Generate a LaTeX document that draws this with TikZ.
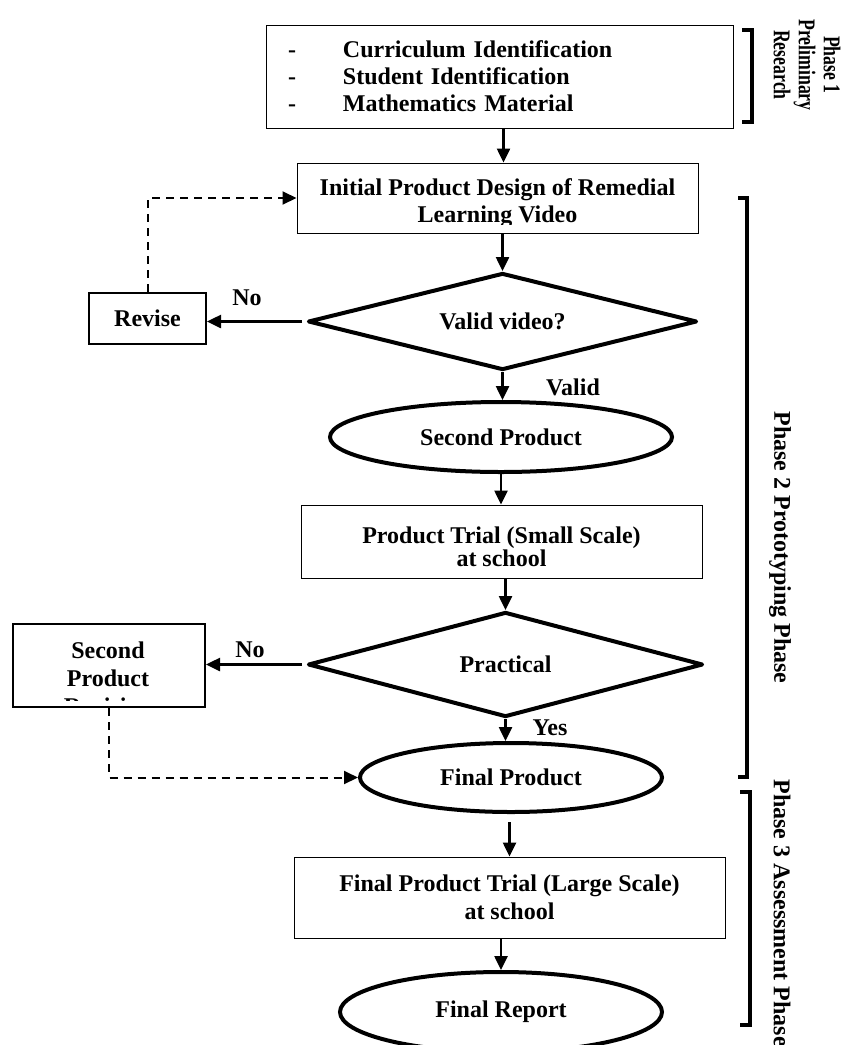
\documentclass[tikz,border=0pt]{standalone}
\usepackage{graphicx}
\usepackage{fontspec}
\setmainfont{Liberation Serif}
\usetikzlibrary{shapes.geometric,arrows.meta}
\newcommand{\cnd}[1]{\scalebox{0.74}[1]{#1}}
\begin{document}
\begin{tikzpicture}[x=0.5pt,y=-0.5pt,
  every node/.style={font=\bfseries\fontsize{12}{13.5}\selectfont},
  thinbox/.style={draw, line width=0.5pt, rectangle, inner sep=0pt, align=center},
  medbox/.style={draw, line width=1pt, rectangle, inner sep=0pt, align=center},
  dia/.style={draw, diamond, shape aspect=4, line width=2pt, inner sep=0pt, line join=round},
  ell/.style={draw, ellipse, line width=2pt, inner sep=0pt},
  arr/.style={line width=1.25pt, -{Triangle[length=7pt,width=6.5pt]}},
  darr/.style={line width=1pt, dash pattern=on 4pt off 3pt, -{Triangle[length=7pt,width=6.5pt]}},
  brk/.style={line width=2pt},
  lbl/.style={inner sep=0pt},
  phase/.style={rotate=-90, inner sep=0pt, align=center}
]
\useasboundingbox (0,0) rectangle (844,1045);

% Phase 1 box
\node[thinbox, minimum width=233.5pt, minimum height=51.5pt, text width=211.5pt, align=left] (b1) at (499.5,76.5)
  {\makebox[27.5pt][l]{-}Curriculum Identification\\ \makebox[27.5pt][l]{-}Student Identification\\ \makebox[27.5pt][l]{-}Mathematics Material};

% Initial design box
\node[thinbox, minimum width=200.5pt, minimum height=35pt] (b2) at (497.5,198) {};
\begin{scope}
  \clip (297,163) rectangle (698,224);
  \node[lbl, align=center] (b2t) at (497.5,203) {Initial Product Design of Remedial\\Learning Video};
\end{scope}

% Decision 1
\node[dia, minimum width=194.5pt, minimum height=48.5pt] (d1) at (502.5,321.5) {Valid video?};
\node[medbox, minimum width=58.5pt, minimum height=25.5pt] (rev) at (147.5,318) {Revise};

% Second product
\node[ell, minimum width=171pt, minimum height=35pt] (e1) at (501,437) {Second Product};

% Product trial small
\node[thinbox, minimum width=200.5pt, minimum height=36.5pt] (b3) at (501.5,541.5) {};
\node[lbl, align=center, font=\bfseries\fontsize{12}{11.5}\selectfont] (b3t) at (501.5,547) {Product Trial (Small Scale)\\at school};

% Decision 2
\node[dia, minimum width=197.5pt, minimum height=52.5pt] (d2) at (505.5,664.5) {Practical};
\node[medbox, minimum width=96pt, minimum height=41.5pt] (sp) at (109,665.5) {};
\begin{scope}
  \clip (13,624) rectangle (205,700);
  \node[lbl, align=center, font=\bfseries\fontsize{12}{14}\selectfont] (spt) at (108,678) {Second\\Product\\Revision};
\end{scope}

% Final product
\node[ell, minimum width=151pt, minimum height=34.5pt] (e2) at (511,777.5) {Final Product};

% Final trial
\node[thinbox, minimum width=215.5pt, minimum height=40.5pt] (b4) at (509.5,897.5) {};
\node[lbl, align=center, font=\bfseries\fontsize{12}{14}\selectfont] (b4t) at (509.5,897) {Final Product Trial (Large Scale)\\at school};

% Final report
\node[ell, minimum width=161pt, minimum height=40pt] (e3) at (501,1012) {Final Report};

% connectors
\draw[arr] ([xshift=2pt]b1.south) -- ([xshift=2pt]b1.south |- b2.north);
\draw[arr] (d1.north |- b2.south) -- (d1.north);
\draw[arr] (d1.west) ++(-4,0) coordinate (d1w) -- (d1w -| rev.east);
\draw[darr] (rev.north) |- (b2.west);
\draw[arr] (d1.south) -- (d1.south |- e1.north);
\draw[arr] (e1.south) -- (e1.south |- b3.north);
\draw[arr] (d2.north |- b3.south) -- (d2.north);
\draw[arr] (d2.west) ++(-4,0) coordinate (d2w) -- (d2w -| sp.east);
\draw[darr] (sp.south) |- (e2.west);
\draw[arr] (d2.south) -- (d2.south |- e2.north);
\draw[arr, shorten <=4pt] (e2.south -| b4.north) -- (b4.north);
\draw[arr] (e3.north |- b4.south) -- (e3.north);

% labels
\node[lbl] (no1) at (247,298) {No};
\node[lbl] (valid) at (573,387) {Valid};
\node[lbl] (no2) at (250,650) {No};
\node[lbl] (yes) at (550,728) {Yes};

% brackets
\draw[brk] (742,30) -- (752,30) -- (752,122) -- (742,122);
\draw[brk] (738,198) -- (747,198) -- (747,777) -- (738,777);
\draw[brk] (740,792) -- (750,792) -- (750,1025) -- (740,1025);

% phase labels
\node[phase, font=\bfseries\fontsize{12}{12.5}\selectfont] (p1) at (807,65) {\cnd{Phase 1}\\\cnd{Preliminary}\\\cnd{Research}};
\node[phase] (p2) at (780,547.5) {Phase 2 Prototyping Phase};
\node[phase] (p3) at (782,913) {Phase 3 Assessment Phase};
\end{tikzpicture}
\end{document}
